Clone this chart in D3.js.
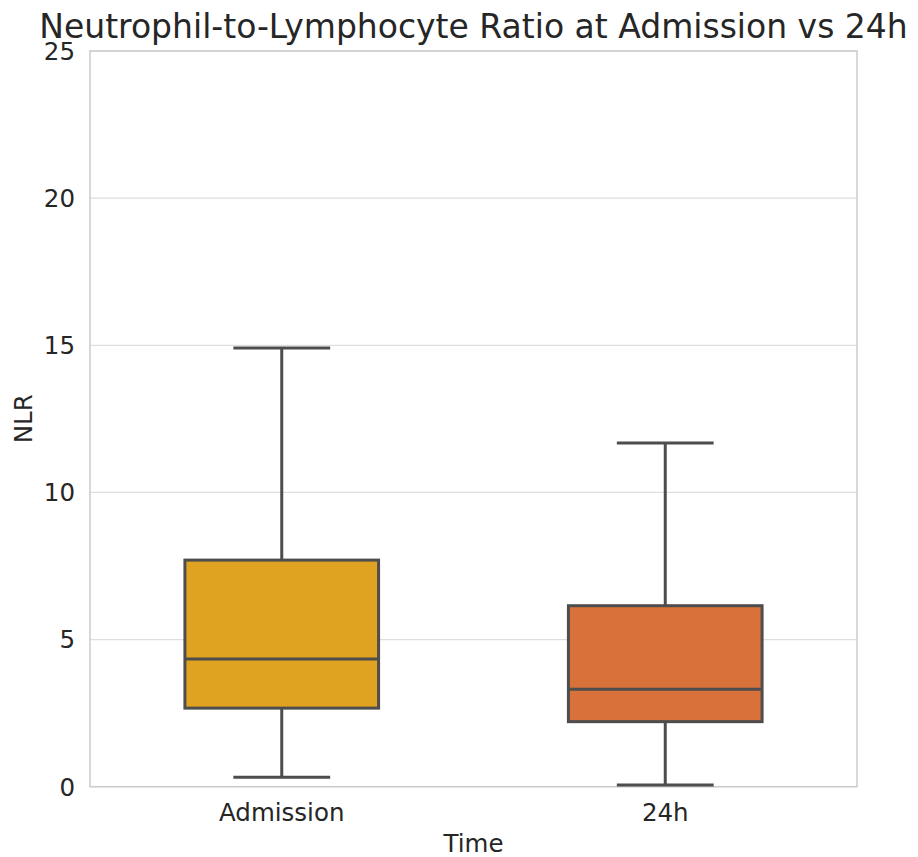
<!DOCTYPE html>
<html><head><meta charset="utf-8">
<script src="https://cdn.jsdelivr.net/npm/d3@7"></script>
<style>body{margin:0;background:#fff;} text{font-family:"DejaVu Sans",sans-serif;fill:#262626;}</style>
</head><body>
<svg id="c" width="918" height="857"></svg>
<script>
const categories = ["Admission", "24h"];
const whiskerLow = [0.32, 0.06];
const q1 = [2.67, 2.21];
const median = [4.34, 3.31];
const q3 = [7.70, 6.15];
const whiskerHigh = [14.91, 11.68];
const colors = ["#dfa321", "#d9713a"];
const yTicks = [0, 5, 10, 15, 20, 25];
const title = "Neutrophil-to-Lymphocyte Ratio at Admission vs 24h";

const svg = d3.select("#c");
const L = 90, R = 857, T = 51, B = 786.7;
const x = d3.scaleBand().domain(categories).range([L, R]);
const y = d3.scaleLinear().domain([0, 25]).range([B, T]);

// grid
svg.append("g").selectAll("line").data(yTicks).join("line")
  .attr("x1", L).attr("x2", R).attr("y1", d => y(d)).attr("y2", d => y(d))
  .attr("stroke", "#dedede").attr("stroke-width", 1.2);

// spines
svg.append("rect").attr("x", L).attr("y", T).attr("width", R - L).attr("height", B - T)
  .attr("fill", "none").attr("stroke", "#cccccc").attr("stroke-width", 1.5);

const data = categories.map((c, i) => ({c, lo: whiskerLow[i], q1: q1[i], med: median[i], q3: q3[i], hi: whiskerHigh[i], col: colors[i]}));
const bw = x.bandwidth() * 0.505;
const cw = bw * 0.5;
const lc = "#4d4d4d", lw = 3;
const g = svg.append("g").selectAll("g").data(data).join("g");
g.append("line").attr("x1", d => x(d.c) + x.bandwidth()/2).attr("x2", d => x(d.c) + x.bandwidth()/2)
  .attr("y1", d => y(d.q3)).attr("y2", d => y(d.hi)).attr("stroke", lc).attr("stroke-width", lw);
g.append("line").attr("x1", d => x(d.c) + x.bandwidth()/2).attr("x2", d => x(d.c) + x.bandwidth()/2)
  .attr("y1", d => y(d.q1)).attr("y2", d => y(d.lo)).attr("stroke", lc).attr("stroke-width", lw);
g.append("rect").attr("x", d => x(d.c) + x.bandwidth()/2 - bw/2).attr("width", bw)
  .attr("y", d => y(d.q3)).attr("height", d => y(d.q1) - y(d.q3))
  .attr("fill", d => d.col).attr("stroke", lc).attr("stroke-width", lw);
g.append("line").attr("x1", d => x(d.c) + x.bandwidth()/2 - bw/2).attr("x2", d => x(d.c) + x.bandwidth()/2 + bw/2)
  .attr("y1", d => y(d.med)).attr("y2", d => y(d.med)).attr("stroke", lc).attr("stroke-width", lw);
["lo", "hi"].forEach(k => {
  g.append("line").attr("x1", d => x(d.c) + x.bandwidth()/2 - cw/2).attr("x2", d => x(d.c) + x.bandwidth()/2 + cw/2)
    .attr("y1", d => y(d[k])).attr("y2", d => y(d[k])).attr("stroke", lc).attr("stroke-width", lw);
});

// y ticks
svg.append("g").selectAll("text").data(yTicks).join("text")
  .attr("x", 75).attr("y", d => y(d)).attr("dy", "0.36em").attr("text-anchor", "end")
  .attr("font-size", 24.5).text(d => d);
// x ticks
svg.append("g").selectAll("text").data(categories).join("text")
  .attr("x", d => x(d) + x.bandwidth()/2).attr("y", 821).attr("text-anchor", "middle")
  .attr("font-size", 24.5).text(d => d);
// labels
svg.append("text").attr("x", (L + R)/2).attr("y", 852).attr("text-anchor", "middle").attr("font-size", 24.5).text("Time");
svg.append("text").attr("transform", `translate(32,${(T + B)/2}) rotate(-90)`).attr("text-anchor", "middle").attr("font-size", 24.5).text("NLR");
svg.append("text").attr("x", 473.5).attr("y", 38).attr("text-anchor", "middle").attr("font-size", 33).text(title);
</script>
</body></html>
